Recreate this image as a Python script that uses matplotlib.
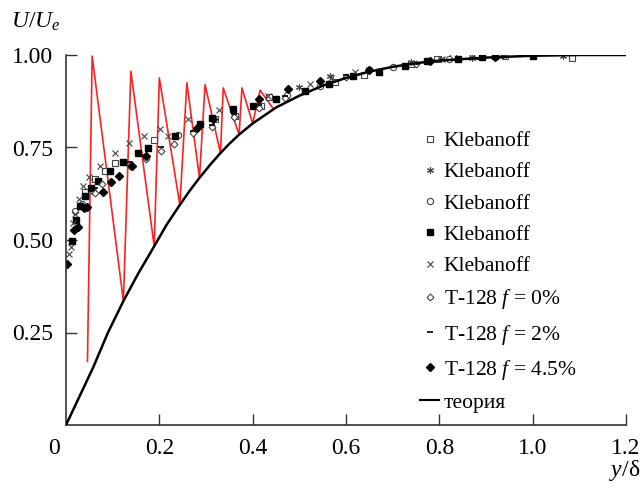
import matplotlib
matplotlib.use("Agg")
import matplotlib.pyplot as plt
import matplotlib.transforms as mtransforms
from matplotlib.lines import Line2D

plt.rcParams['font.family'] = ['Liberation Serif', 'DejaVu Serif']
plt.rcParams['mathtext.fontset'] = 'custom'
plt.rcParams['mathtext.rm'] = 'Liberation Serif'
plt.rcParams['mathtext.it'] = 'Liberation Serif:italic'

# ---------------- data ----------------
theory_x = [0.0, 0.03, 0.058, 0.09, 0.123, 0.155, 0.189, 0.215, 0.244, 0.265, 0.286,
            0.31, 0.331, 0.35, 0.371, 0.40, 0.45, 0.50, 0.55, 0.60, 0.65, 0.70,
            0.75, 0.80, 0.90, 1.00, 1.10, 1.20]
theory_u = [0.0, 0.08, 0.155, 0.25, 0.335, 0.41, 0.483, 0.54, 0.595, 0.633, 0.668,
            0.705, 0.735, 0.76, 0.785, 0.815, 0.858, 0.89, 0.917, 0.938, 0.955, 0.968,
            0.978, 0.985, 0.993, 0.998, 1.0, 1.0]

zig_x = [0.046, 0.056, 0.123, 0.139, 0.189, 0.200, 0.244, 0.259, 0.286, 0.298,
         0.331, 0.337, 0.371, 0.377, 0.400, 0.416, 0.444]
zig_u = [0.172, 0.997, 0.335, 0.956, 0.483, 0.938, 0.595, 0.925, 0.668, 0.920,
         0.735, 0.911, 0.785, 0.911, 0.815, 0.905, 0.855]

kleb_sq_x = [0.041, 0.062, 0.084, 0.105, 0.189, 0.319, 0.362, 0.417, 0.434, 0.576,
             0.639, 0.74, 0.794, 0.83, 0.88, 0.94, 1.084]
kleb_sq_u = [0.629, 0.664, 0.686, 0.707, 0.769, 0.828, 0.836, 0.862, 0.886, 0.928,
             0.945, 0.975, 0.99, 0.994, 0.997, 0.998, 0.993]

kleb_ast_x = [0.50, 0.566, 0.65, 0.739, 0.803, 0.869, 0.937, 1.065]
kleb_ast_u = [0.913, 0.943, 0.963, 0.981, 0.99, 0.993, 0.997, 0.998]

kleb_circ_x = [0.019, 0.034, 0.058, 0.239, 0.473, 0.544, 0.701, 0.82]
kleb_circ_u = [0.578, 0.596, 0.632, 0.785, 0.893, 0.916, 0.967, 0.988]

kleb_fsq_x = [0.012, 0.021, 0.031, 0.041, 0.054, 0.069, 0.094, 0.123, 0.154, 0.175,
              0.234, 0.287, 0.313, 0.358, 0.4, 0.451, 0.512, 0.564, 0.616, 0.671,
              0.726, 0.773, 0.841, 0.891, 0.919, 1.0]
kleb_fsq_u = [0.497, 0.555, 0.591, 0.618, 0.641, 0.659, 0.686, 0.71, 0.736, 0.749,
              0.78, 0.814, 0.83, 0.853, 0.862, 0.882, 0.904, 0.922, 0.943, 0.955,
              0.97, 0.983, 0.99, 0.995, 0.996, 0.998]

kleb_x_x = [0.007, 0.01, 0.016, 0.019, 0.028, 0.037, 0.05, 0.073, 0.105, 0.135,
            0.167, 0.201, 0.218, 0.262, 0.328, 0.433, 0.523, 0.567, 0.619, 0.806, 0.869]
kleb_x_u = [0.461, 0.48, 0.546, 0.569, 0.611, 0.645, 0.671, 0.70, 0.736, 0.763,
            0.78, 0.799, 0.78, 0.828, 0.85, 0.889, 0.922, 0.938, 0.955, 0.99, 0.994]

t0_x = [0.062, 0.077, 0.137, 0.171, 0.203, 0.231, 0.273, 0.312, 0.36, 0.414, 0.47, 0.6, 0.75]
t0_u = [0.627, 0.65, 0.70, 0.72, 0.74, 0.76, 0.788, 0.806, 0.833, 0.857, 0.885, 0.94, 0.975]

t2_x = [0.062, 0.137, 0.171, 0.203, 0.273, 0.312, 0.36, 0.414, 0.47, 0.6, 0.75]
t2_u = [0.64, 0.71, 0.73, 0.75, 0.795, 0.812, 0.84, 0.866, 0.89, 0.945, 0.975]

t45_x = [0.003, 0.017, 0.025, 0.039, 0.046, 0.079, 0.096, 0.114, 0.141, 0.171,
         0.28, 0.316, 0.414, 0.476, 0.544, 0.65, 0.78, 0.92]
t45_u = [0.434, 0.528, 0.535, 0.587, 0.589, 0.629, 0.656, 0.674, 0.70, 0.728,
         0.803, 0.828, 0.882, 0.909, 0.929, 0.96, 0.985, 0.995]

x_ticks = [0.2, 0.4, 0.6, 0.8, 1.0, 1.2]
x_tick_labels = ['0.2', '0.4', '0.6', '0.8', '1.0', '1.2']
y_ticks = [0.25, 0.50, 0.75, 1.00]
y_tick_labels = ['0.25', '0.50', '0.75', '1.00']

# ---------------- figure ----------------
fig = plt.figure(figsize=(6.42, 4.90), dpi=100)
ax = fig.add_axes([66/642, 65/490, 560/642, 370/490])
ax.set_xlim(0, 1.2)
ax.set_ylim(0, 1.0)

ax.plot(zig_x, zig_u, color='#ff2020', lw=1.2, zorder=2)
ax.plot(theory_x, theory_u, color='black', lw=1.8, zorder=3, label='теория')

gray = '#444444'
h1, = ax.plot(kleb_sq_x, kleb_sq_u, ls='none', marker='s', ms=4, mfc='white', mec=gray, mew=0.8, label='Klebanoff')
h2, = ax.plot(kleb_ast_x, kleb_ast_u, ls='none', marker=(6, 2, 0), ms=5, mec=gray, mew=0.8, label='Klebanoff')
h3, = ax.plot(kleb_circ_x, kleb_circ_u, ls='none', marker='o', ms=4.5, mfc='white', mec=gray, mew=0.8, label='Klebanoff')
h4, = ax.plot(kleb_fsq_x, kleb_fsq_u, ls='none', marker='s', ms=4.5, mfc='black', mec='black', label='Klebanoff')
h5, = ax.plot(kleb_x_x, kleb_x_u, ls='none', marker='x', ms=5, mec=gray, mew=0.8, label='Klebanoff')
h6, = ax.plot(t0_x, t0_u, ls='none', marker='D', ms=3.5, mfc='white', mec=gray, mew=0.8, label='T-128 $f$ = 0%')
h7, = ax.plot(t2_x, t2_u, ls='none', marker='_', ms=5, mec='black', mew=1.2, label='T-128 $f$ = 2%')
h8, = ax.plot(t45_x, t45_u, ls='none', marker='D', ms=4, mfc='black', mec='black', label='T-128 $f$ = 4.5%')
hth = Line2D([], [], color='black', lw=1.5, label='теория')

for s in ['top', 'right']:
    ax.spines[s].set_visible(False)
for s in ['left', 'bottom']:
    ax.spines[s].set_color('#333333')
    ax.spines[s].set_linewidth(1.2)

ax.set_xticks([0.0] + x_ticks)
ax.set_xticklabels(['0'] + x_tick_labels)
ax.set_yticks(y_ticks)
ax.set_yticklabels(y_tick_labels)
ax.tick_params(axis='both', direction='in', length=8, width=1.0, color='#333333',
               labelsize=17, pad=9)
ax.xaxis.get_major_ticks()[0].tick1line.set_visible(False)
lbl0 = ax.get_xticklabels()[0]
lbl0.set_transform(lbl0.get_transform() + mtransforms.ScaledTranslation(-12/100, 0, fig.dpi_scale_trans))

fig.text(11/642, 1 - 22/490, '$U/U_e$', fontsize=17, ha='left', va='center')
fig.text(640/642, 1 - 470/490, '$y$/δ', fontsize=17, ha='right', va='center')

leg = ax.legend(handles=[h1, h2, h3, h4, h5, h6, h7, h8, hth], loc='upper left',
                bbox_to_anchor=(420/642, 1 - 131/490), bbox_transform=fig.transFigure,
                frameon=False, fontsize=15.5, handlelength=0.9, handletextpad=0.2,
                labelspacing=0.52, borderpad=0, numpoints=1, borderaxespad=0)

fig.savefig('out.png', dpi=100)
